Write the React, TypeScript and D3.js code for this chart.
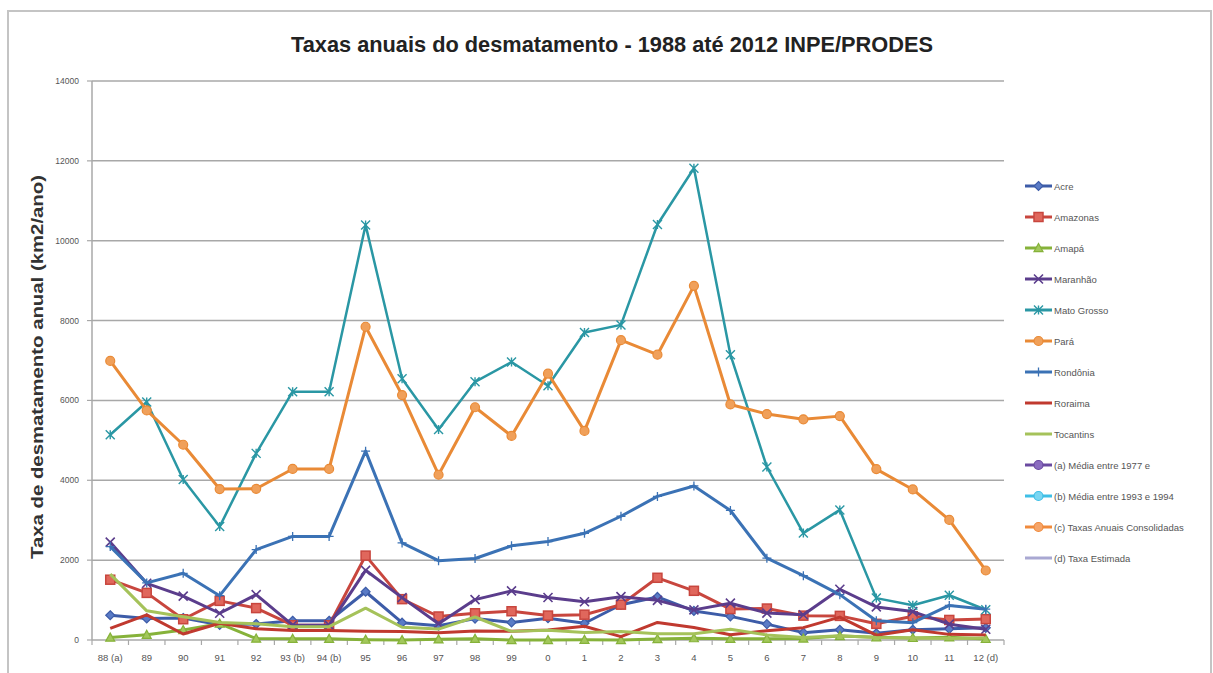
import React from "react";
import * as d3 from "d3";

const categories = ["88 (a)", "89", "90", "91", "92", "93 (b)", "94 (b)", "95", "96", "97", "98", "99", "0", "1", "2", "3", "4", "5", "6", "7", "8", "9", "10", "11", "12 (d)"];

const acre = [620, 540, 550, 380, 400, 482, 482, 1208, 433, 358, 536, 441, 547, 419, 883, 1078, 728, 592, 398, 184, 254, 167, 259, 280, 305];
const amazonas = [1510, 1180, 520, 980, 799, 370, 370, 2114, 1023, 589, 670, 720, 612, 634, 885, 1558, 1232, 775, 788, 610, 604, 405, 595, 502, 523];
const amapa = [60, 130, 250, 410, 36, 30, 30, 9, 0, 18, 30, 0, 0, 7, 0, 25, 46, 33, 30, 39, 100, 70, 53, 66, 27];
const maranhao = [2450, 1420, 1100, 670, 1135, 372, 372, 1745, 1061, 409, 1012, 1230, 1065, 958, 1085, 993, 755, 922, 674, 631, 1271, 828, 712, 396, 269];
const matoGrosso = [5140, 5960, 4020, 2840, 4674, 6220, 6220, 10391, 6543, 5271, 6466, 6963, 6369, 7703, 7892, 10405, 11814, 7145, 4333, 2678, 3258, 1049, 871, 1120, 757];
const para = [6990, 5750, 4890, 3780, 3787, 4284, 4284, 7845, 6135, 4139, 5829, 5111, 6671, 5237, 7510, 7145, 8870, 5899, 5659, 5526, 5607, 4281, 3770, 3008, 1741];
const rondonia = [2340, 1430, 1670, 1110, 2265, 2595, 2595, 4730, 2432, 1986, 2041, 2358, 2465, 2673, 3099, 3597, 3858, 3244, 2049, 1611, 1136, 482, 435, 865, 773];
const roraima = [290, 630, 150, 420, 281, 240, 240, 220, 214, 184, 223, 220, 253, 345, 84, 439, 311, 133, 231, 309, 574, 121, 256, 141, 124];
const tocantins = [1650, 730, 580, 440, 409, 333, 333, 797, 320, 273, 576, 216, 244, 189, 212, 156, 158, 271, 124, 63, 107, 61, 49, 40, 52];

const yTicks = [0, 2000, 4000, 6000, 8000, 10000, 12000, 14000];

type Series = { name: string; values: number[] | null; color: string; fill: string; marker: string; width: number };

const series: Series[] = [
  { name: "Acre", values: acre, color: "#3d5ca8", fill: "#5a7bc6", marker: "diamond", width: 3 },
  { name: "Amazonas", values: amazonas, color: "#c8463e", fill: "#e0675c", marker: "square", width: 3 },
  { name: "Amapá", values: amapa, color: "#86b23a", fill: "#a2c75b", marker: "triangle", width: 3 },
  { name: "Maranhão", values: maranhao, color: "#5b3d8c", fill: "#7a5caa", marker: "x", width: 3 },
  { name: "Mato Grosso", values: matoGrosso, color: "#2a97a4", fill: "#4bb5c4", marker: "star", width: 2.5 },
  { name: "Pará", values: para, color: "#e98a36", fill: "#f0a05a", marker: "circle", width: 3 },
  { name: "Rondônia", values: rondonia, color: "#3b72b5", fill: "#3b72b5", marker: "plus", width: 3 },
  { name: "Roraima", values: roraima, color: "#c0392f", fill: "#c0392f", marker: "none", width: 3 },
  { name: "Tocantins", values: tocantins, color: "#a5c25a", fill: "#a5c25a", marker: "none", width: 3 },
  { name: "(a) Média entre 1977 e", values: null, color: "#6a4aa0", fill: "#8b6cc0", marker: "circle", width: 3 },
  { name: "(b) Média entre 1993 e 1994", values: null, color: "#3fbfe6", fill: "#7ad6f2", marker: "circle", width: 3 },
  { name: "(c) Taxas Anuais Consolidadas", values: null, color: "#f08a3c", fill: "#f5a56a", marker: "circle", width: 3 },
  { name: "(d) Taxa Estimada", values: null, color: "#a9a8d2", fill: "#a9a8d2", marker: "none", width: 3 },
];

function Marker({ type, x, y, color, fill }: { type: string; x: number; y: number; color: string; fill: string }) {
  const s = 4.5;
  switch (type) {
    case "diamond":
      return <path d={`M${x},${y - s} L${x + s},${y} L${x},${y + s} L${x - s},${y} Z`} fill={fill} stroke={color} strokeWidth={1.2} />;
    case "square":
      return <rect x={x - s} y={y - s} width={2 * s} height={2 * s} fill={fill} stroke={color} strokeWidth={1.5} />;
    case "triangle":
      return <path d={`M${x},${y - s} L${x + s},${y + s * 0.8} L${x - s},${y + s * 0.8} Z`} fill={fill} stroke={color} strokeWidth={1.2} />;
    case "x":
      return <path d={`M${x - s},${y - s} L${x + s},${y + s} M${x - s},${y + s} L${x + s},${y - s}`} stroke={color} strokeWidth={1.6} />;
    case "star":
      return <path d={`M${x - s},${y - s} L${x + s},${y + s} M${x - s},${y + s} L${x + s},${y - s} M${x},${y - s} L${x},${y + s}`} stroke={color} strokeWidth={1.4} />;
    case "circle":
      return <circle cx={x} cy={y} r={s} fill={fill} stroke={color} strokeWidth={1.2} />;
    case "plus":
      return <path d={`M${x - s},${y} L${x + s},${y} M${x},${y - s} L${x},${y + s}`} stroke={color} strokeWidth={1.3} />;
    default:
      return null;
  }
}

export default function App() {
  const W = 1213, H = 673;
  const left = 92, right = 1004, top = 81, bottom = 640;
  const x = d3.scaleBand<string>().domain(categories).range([left, right]);
  const cx = (c: string) => (x(c) as number) + x.bandwidth() / 2;
  const y = d3.scaleLinear().domain([0, 14000]).range([bottom, top]);
  const line = d3.line<number>().x((_, i) => cx(categories[i])).y((d) => y(d));

  const legendX = 1025;
  const legendY0 = 186;
  const legendStep = 31;

  return (
    <svg width={W} height={H} style={{ position: "absolute", left: 0, top: 0, background: "#fff" }} fontFamily="'Liberation Sans', Arial, sans-serif">
      <rect x={8} y={11} width={1203} height={670} fill="#fff" stroke="#c4c4c4" strokeWidth={2} />
      <text x={612} y={52} textAnchor="middle" fontSize={22} fontWeight="bold" fill="#222" fontFamily="'Liberation Sans Narrow', 'Liberation Sans', Arial, sans-serif" textLength={642} lengthAdjust="spacingAndGlyphs">
        Taxas anuais do desmatamento - 1988 até 2012 INPE/PRODES
      </text>
      {yTicks.filter((t) => t > 0).map((t) => (
        <line key={t} x1={left} x2={right} y1={y(t)} y2={y(t)} stroke="#a8a8a8" strokeWidth={1.5} />
      ))}
      {yTicks.map((t) => (
        <g key={"yt" + t}>
          <line x1={left - 5} x2={left} y1={y(t)} y2={y(t)} stroke="#a8a8a8" strokeWidth={1.2} />
          <text x={left - 13} y={y(t) + 3} textAnchor="end" fontSize={8.5} fill="#555">{t}</text>
        </g>
      ))}
      <line x1={left} x2={left} y1={top} y2={bottom} stroke="#a8a8a8" strokeWidth={1.5} />
      <line x1={left} x2={right} y1={bottom} y2={bottom} stroke="#a8a8a8" strokeWidth={1.5} />
      {categories.map((c, i) => (
        <g key={"xt" + c}>
          <line x1={(x(c) as number)} x2={(x(c) as number)} y1={bottom} y2={bottom + 5} stroke="#a8a8a8" strokeWidth={1.2} />
          {i === categories.length - 1 && (
            <line x1={right} x2={right} y1={bottom} y2={bottom + 5} stroke="#a8a8a8" strokeWidth={1.2} />
          )}
          <text x={cx(c)} y={bottom + 21} textAnchor="middle" fontSize={9.5} fill="#555">{c}</text>
        </g>
      ))}
      <text transform={`translate(43,367) rotate(-90)`} textAnchor="middle" fontSize={16} fontWeight="bold" fill="#333" textLength={384} lengthAdjust="spacingAndGlyphs">
        Taxa de desmatamento anual  (km2/ano)
      </text>
      {series.filter((s) => s.values).map((s) => (
        <g key={s.name}>
          <path d={line(s.values as number[]) || ""} fill="none" stroke={s.color} strokeWidth={s.width} strokeLinejoin="round" />
          {(s.values as number[]).map((v, i) => (
            <Marker key={i} type={s.marker} x={cx(categories[i])} y={y(v)} color={s.color} fill={s.fill} />
          ))}
        </g>
      ))}
      {series.map((s, i) => {
        const ly = legendY0 + i * legendStep;
        return (
          <g key={"lg" + s.name}>
            <line x1={legendX} x2={legendX + 27} y1={ly} y2={ly} stroke={s.color} strokeWidth={3} />
            <Marker type={s.marker} x={legendX + 13.5} y={ly} color={s.color} fill={s.fill} />
            <text x={legendX + 29} y={ly + 3.5} fontSize={9.5} fill="#555" fontFamily="'Liberation Sans Narrow', 'Liberation Sans', Arial, sans-serif">{s.name}</text>
          </g>
        );
      })}
    </svg>
  );
}
